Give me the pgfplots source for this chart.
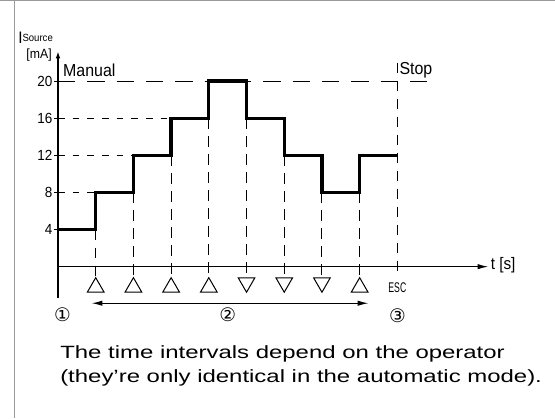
\documentclass[border=0pt]{standalone}
\usepackage{fontspec}
\setmainfont{Liberation Sans}
\newfontfamily\condf[FakeStretch=0.92]{Liberation Sans}
\newfontfamily\escf[FakeStretch=0.62]{Liberation Sans}
\newfontfamily\widef[FakeStretch=1.35]{Liberation Sans}
\newfontfamily\symf{DejaVu Sans}
\usepackage{pgfplots}
\pgfplotsset{compat=1.18}
\usetikzlibrary{arrows.meta}
\definecolor{framec}{HTML}{9A9A9A}

\begin{document}
\begin{tikzpicture}
\path[use as bounding box] (0,0) rectangle (416.25pt,313.5pt);
\draw[framec, line width=0.9pt] (0,312.9pt) -- (416.25pt,312.9pt);
\draw[framec, line width=0.9pt] (10.9pt,0) -- (10.9pt,313.5pt);
\begin{axis}[
  anchor=origin, at={(43.5pt,113.5pt)},
  x=28.28pt, y=6.96pt,
  xmin=0, xmax=11.41, ymin=-3.34, ymax=23.17,
  axis lines=middle, clip=false,
  axis line style={black, line width=0.8pt},
  x axis line style={-{Latex[length=8pt,width=4pt]}},
  y axis line style={-{Latex[length=5pt,width=3.5pt]}},
  xtick=\empty, ytick={4,8,12,16,20},
  ytick align=outside, major tick length=3pt,
  tick style={black, line width=0.7pt},
  yticklabel style={font=\condf\fontsize{11}{11}\selectfont, inner sep=1pt},
  /pgf/number format/assume math mode=true,
]
% reference lines
\addplot[black, line width=0.75pt, dash pattern=on 13pt off 9pt] coordinates {(0,20) (10,20)};
\addplot[black, line width=0.75pt, dash pattern=on 5pt off 6pt] coordinates {(0,16) (3,16)};
\addplot[black, line width=0.75pt, dash pattern=on 5pt off 6pt] coordinates {(0,12) (2,12)};
\addplot[black, line width=0.75pt, dash pattern=on 5pt off 6pt] coordinates {(0,8) (1,8)};
% event lines (top down)
\addplot[black, line width=0.75pt, dash pattern=on 8pt off 5.5pt] coordinates {(1,4) (1,-1)};
\addplot[black, line width=0.75pt, dash pattern=on 8pt off 5.5pt] coordinates {(2,8) (2,-1)};
\addplot[black, line width=0.75pt, dash pattern=on 8pt off 5.5pt] coordinates {(3,12) (3,-1)};
\addplot[black, line width=0.75pt, dash pattern=on 8pt off 5.5pt] coordinates {(4,16) (4,-1)};
\addplot[black, line width=0.75pt, dash pattern=on 8pt off 5.5pt] coordinates {(5,16) (5,-1)};
\addplot[black, line width=0.75pt, dash pattern=on 8pt off 5.5pt] coordinates {(6,12) (6,-1)};
\addplot[black, line width=0.75pt, dash pattern=on 8pt off 5.5pt] coordinates {(7,8) (7,-1)};
\addplot[black, line width=0.75pt, dash pattern=on 8pt off 5.5pt] coordinates {(8,8) (8,-1)};
\addplot[black, line width=0.75pt, dash pattern=on 8pt off 5.5pt] coordinates {(9,22) (9,-1)};
% source current
\addplot[black, const plot, line width=2.5pt, miter limit=4] coordinates {
  (0,4) (1,8) (2,12) (3,16) (4,20) (5,16) (6,12) (7,8) (8,12) (9,12)};
% keys
\addplot[black, only marks, mark=triangle, mark size=7.2pt, mark options={line width=0.75pt}]
  coordinates {(1,-2.22) (2,-2.22) (3,-2.22) (4,-2.22) (8,-2.22)};
\addplot[black, only marks, mark=triangle, mark size=7.2pt, mark options={line width=0.75pt, rotate=180}]
  coordinates {(5,-1.72) (6,-1.72) (7,-1.72)};
\addplot[black, line width=0.75pt, {Latex[length=8pt,width=4pt]}-{Latex[length=8pt,width=4pt]}]
  coordinates {(0.894,-3.94) (8.23,-3.94)};

\node[anchor=west, inner sep=0, font=\condf\fontsize{13}{13}\selectfont] at (axis cs:0.13,21.2) {Manual};
\node[anchor=west, inner sep=0, font=\condf\fontsize{13}{13}\selectfont] at (axis cs:9.05,21.2) {Stop};
\node[anchor=west, inner sep=0, font=\condf\fontsize{12.5}{13}\selectfont] at (axis cs:11.47,0.15) {t [s]};
\node[anchor=base east, inner sep=0] at (axis cs:-0.13,24.07)
  {{\condf\fontsize{12.5}{13}\selectfont I}\raisebox{1.5pt}{\condf\fontsize{7.8}{8}\selectfont Source}};
\node[anchor=east, inner sep=0, font=\condf\fontsize{10}{10}\selectfont] at (axis cs:-0.16,22.8) {[mA]};
\node[inner sep=0, font=\escf\fontsize{10.5}{11}\selectfont] at (axis cs:9,-2.3) {ESC};
\node[inner sep=0, font=\symf\fontsize{14}{14}\selectfont] at (axis cs:0.12,-5.2) {①};
\node[inner sep=0, font=\symf\fontsize{14}{14}\selectfont] at (axis cs:4.5,-5.2) {②};
\node[inner sep=0, font=\symf\fontsize{14}{14}\selectfont] at (axis cs:9,-5.25) {③};
\end{axis}
\node[anchor=base west, inner sep=0, font=\widef\fontsize{13.3}{18}\selectfont] at (45pt,45pt)
  {The time intervals depend on the operator};
\node[anchor=base west, inner sep=0, font=\widef\fontsize{13.3}{18}\selectfont] at (45pt,27pt)
  {(they’re only identical in the automatic mode).};
\end{tikzpicture}
\end{document}
